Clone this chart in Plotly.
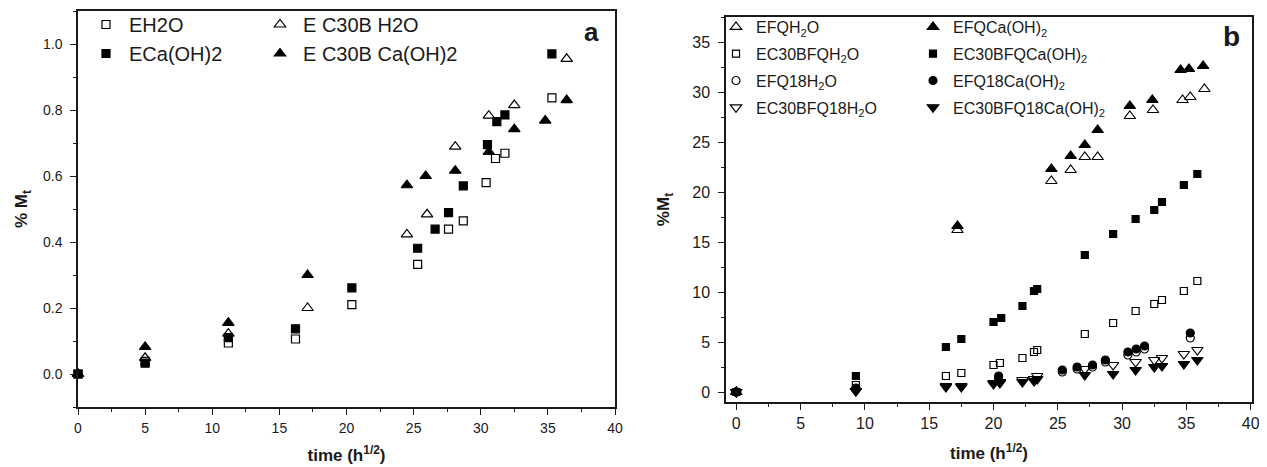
import plotly.graph_objects as go

# ---------------- Panel a data ----------------
a_eh2o_x = [0, 5, 11.2, 16.2, 20.4, 25.3, 27.6, 28.7, 30.4, 31.1, 31.8, 35.3]
a_eh2o_y = [0, 0.038, 0.094, 0.106, 0.21, 0.332, 0.439, 0.464, 0.58, 0.653, 0.669, 0.837]

a_eca_x = [0, 5, 11.2, 16.2, 20.4, 25.3, 26.6, 27.6, 28.7, 30.5, 31.2, 31.8, 35.3]
a_eca_y = [0, 0.033, 0.11, 0.137, 0.261, 0.381, 0.439, 0.489, 0.57, 0.695, 0.765, 0.785, 0.97]

a_c30h2o_x = [0, 5, 11.2, 17.1, 24.5, 26.0, 28.1, 30.6, 32.5, 36.4]
a_c30h2o_y = [0, 0.049, 0.122, 0.20, 0.423, 0.484, 0.689, 0.783, 0.815, 0.955]

a_c30ca_x = [0, 5, 11.2, 17.1, 24.5, 25.9, 28.1, 30.6, 32.5, 34.8, 36.4]
a_c30ca_y = [0, 0.082, 0.155, 0.30, 0.572, 0.60, 0.616, 0.673, 0.742, 0.768, 0.83]

# ---------------- Panel b data ----------------
b_efq_h2o_x = [0, 17.2, 24.5, 26.0, 27.1, 28.1, 30.6, 32.4, 34.7, 35.3, 36.4]
b_efq_h2o_y = [0, 16.2, 21.1, 22.2, 23.5, 23.5, 27.6, 28.2, 29.2, 29.5, 30.3]

b_efq_ca_x = [0, 17.2, 24.5, 26.0, 27.1, 28.1, 30.6, 32.35, 34.55, 35.2, 36.3]
b_efq_ca_y = [0, 16.6, 22.3, 23.6, 24.7, 26.2, 28.6, 29.2, 32.2, 32.3, 32.6]

b_c30fq_h2o_x = [0, 9.3, 16.3, 17.5, 20.0, 20.5, 22.25, 23.15, 23.4, 27.1, 29.3, 31.05, 32.5, 33.1, 34.8, 35.85]
b_c30fq_h2o_y = [0, 0.7, 1.6, 1.9, 2.7, 2.9, 3.4, 4.0, 4.2, 5.8, 6.9, 8.1, 8.8, 9.2, 10.1, 11.1]

b_c30fq_ca_x = [0, 9.3, 16.3, 17.5, 20.0, 20.6, 22.25, 23.15, 23.4, 27.1, 29.3, 31.05, 32.5, 33.1, 34.8, 35.85]
b_c30fq_ca_y = [0, 1.6, 4.5, 5.3, 7.0, 7.4, 8.6, 10.1, 10.3, 13.7, 15.8, 17.3, 18.2, 19.0, 20.7, 21.8]

b_efq18_h2o_x = [0, 9.3, 20.4, 25.35, 26.5, 27.7, 28.7, 30.45, 31.1, 31.75, 35.3]
b_efq18_h2o_y = [0, 0.3, 1.3, 2.0, 2.3, 2.5, 3.0, 3.7, 4.0, 4.3, 5.4]

b_efq18_ca_x = [0, 9.3, 20.4, 25.35, 26.5, 27.7, 28.7, 30.45, 31.1, 31.75, 35.3]
b_efq18_ca_y = [0, 0.4, 1.6, 2.2, 2.5, 2.7, 3.2, 4.0, 4.3, 4.6, 5.9]

b_c30fq18_h2o_x = [0, 9.3, 16.3, 17.5, 20.0, 20.5, 22.25, 23.15, 23.4, 27.1, 29.3, 31.05, 32.5, 33.1, 34.8, 35.85]
b_c30fq18_h2o_y = [0, 0.1, 0.6, 0.6, 0.9, 1.0, 1.2, 1.3, 1.6, 2.3, 2.7, 3.0, 3.2, 3.4, 3.8, 4.2]

b_c30fq18_ca_x = [0, 9.3, 16.3, 17.5, 20.0, 20.5, 22.25, 23.15, 23.4, 27.1, 29.3, 31.05, 32.5, 33.1, 34.8, 35.85]
b_c30fq18_ca_y = [0, 0.1, 0.5, 0.5, 0.8, 0.9, 1.0, 1.1, 1.3, 1.7, 1.8, 2.2, 2.5, 2.6, 2.8, 3.2]

FONT = "Liberation Sans, Arial, sans-serif"
INK = "#1a1a1a"

fig = go.Figure()


def add(x, y, name, symbol, size, xaxis, yaxis, legend, group):
    fig.add_trace(go.Scatter(
        x=x, y=y, mode="markers", name=name,
        xaxis=xaxis, yaxis=yaxis, legend=legend, legendgroup=group,
        marker=dict(symbol=symbol, size=size, color="black",
                    line=dict(color="black", width=1.2)),
        showlegend=True, cliponaxis=False,
    ))


# Panel a
add(a_eh2o_x, a_eh2o_y, "EH2O", "square-open", 8, "x", "y", "legend", "a1")
add(a_eca_x, a_eca_y, "ECa(OH)2", "square", 8, "x", "y", "legend", "a2")
add(a_c30h2o_x, a_c30h2o_y, "E C30B H2O", "triangle-up-open", 10, "x", "y", "legend2", "a3")
add(a_c30ca_x, a_c30ca_y, "E C30B Ca(OH)2", "triangle-up", 10, "x", "y", "legend2", "a4")

# Panel b
add(b_efq_h2o_x, b_efq_h2o_y, "EFQH<sub>2</sub>O", "triangle-up-open", 10, "x2", "y2", "legend3", "b1")
add(b_c30fq_h2o_x, b_c30fq_h2o_y, "EC30BFQH<sub>2</sub>O", "square-open", 7, "x2", "y2", "legend3", "b2")
add(b_efq18_h2o_x, b_efq18_h2o_y, "EFQ18H<sub>2</sub>O", "circle-open", 8, "x2", "y2", "legend3", "b3")
add(b_c30fq18_h2o_x, b_c30fq18_h2o_y, "EC30BFQ18H<sub>2</sub>O", "triangle-down-open", 10, "x2", "y2", "legend3", "b4")
add(b_efq_ca_x, b_efq_ca_y, "EFQCa(OH)<sub>2</sub>", "triangle-up", 10, "x2", "y2", "legend4", "b5")
add(b_c30fq_ca_x, b_c30fq_ca_y, "EC30BFQCa(OH)<sub>2</sub>", "square", 7, "x2", "y2", "legend4", "b6")
add(b_efq18_ca_x, b_efq18_ca_y, "EFQ18Ca(OH)<sub>2</sub>", "circle", 8, "x2", "y2", "legend4", "b7")
add(b_c30fq18_ca_x, b_c30fq18_ca_y, "EC30BFQ18Ca(OH)<sub>2</sub>", "triangle-down", 10, "x2", "y2", "legend4", "b8")

# page body adds an 8px margin; size the figure so it fits the 1267x467 window
OFF = 8
W, H = 1267 - OFF, 467 - OFF


def px(x):
    return (x - OFF) / W


def py(y):
    return 1 - (y - OFF) / H


axis_common = dict(
    showline=True, linewidth=1.5, linecolor=INK, mirror=True,
    ticks="outside", ticklen=6, tickwidth=1.2, tickcolor=INK,
    showgrid=False, zeroline=False, automargin=False,
    ticklabelstandoff=5,
    tickfont=dict(family=FONT, size=14, color=INK),
)
big_ticks = dict(family=FONT, size=16, color=INK)

fig.update_layout(
    width=W, height=H,
    margin=dict(l=0, r=0, t=0, b=0, autoexpand=False),
    paper_bgcolor="white", plot_bgcolor="white",
    font=dict(family=FONT, color=INK),
    xaxis=dict(domain=[px(78), px(615)], range=[0, 40], dtick=5, anchor="y",
               minor=dict(ticks="outside", ticklen=3, dtick=2.5, tickcolor=INK),
               title=dict(text="<b>time (h<sup>1/2</sup>)</b>", font=dict(size=17, family=FONT), standoff=15),
               **{**axis_common, "ticklabelstandoff": 1}),
    yaxis=dict(domain=[py(407), py(11)], range=[-0.1, 1.1], dtick=0.2, tickformat=".1f", anchor="x",
               minor=dict(ticks="outside", ticklen=3, dtick=0.1, tickcolor=INK),
               title=dict(text="<b>% M<sub>t</sub></b>", font=dict(size=17, family=FONT), standoff=11),
               **axis_common),
    xaxis2=dict(domain=[px(726), px(1252)], range=[-0.8, 40.1], dtick=5, tick0=0, anchor="y2",
                minor=dict(ticks="outside", ticklen=3, dtick=2.5, tickcolor=INK),
                title=dict(text="<b>time (h<sup>1/2</sup>)</b>", font=dict(size=17, family=FONT), standoff=16),
                **{**axis_common, "tickfont": big_ticks, "ticklabelstandoff": 0}),
    yaxis2=dict(domain=[py(402), py(17)], range=[-1, 37.5], dtick=5, tick0=0, anchor="x2",
                minor=dict(ticks="outside", ticklen=3, dtick=2.5, tickcolor=INK),
                title=dict(text="<b>%M<sub>t</sub></b>", font=dict(size=17, family=FONT), standoff=18),
                **{**axis_common, "tickfont": big_ticks}),
    legend=dict(x=px(83), y=py(5), xanchor="left", yanchor="top", bgcolor="rgba(0,0,0,0)", itemwidth=36,
                font=dict(size=20, family=FONT, color=INK), tracegroupgap=0, itemclick=False),
    legend2=dict(x=px(257), y=py(5), xanchor="left", yanchor="top", bgcolor="rgba(0,0,0,0)", itemwidth=36,
                 font=dict(size=20, family=FONT, color=INK), tracegroupgap=0, itemclick=False),
    legend3=dict(x=px(716), y=py(10), xanchor="left", yanchor="top", bgcolor="rgba(0,0,0,0)",
                 font=dict(size=16, family=FONT, color=INK), tracegroupgap=3, itemclick=False),
    legend4=dict(x=px(913), y=py(10), xanchor="left", yanchor="top", bgcolor="rgba(0,0,0,0)",
                 font=dict(size=16, family=FONT, color=INK), tracegroupgap=3, itemclick=False),
    annotations=[
        dict(text="<b>a</b>", x=px(591), y=py(32), xref="paper", yref="paper",
             xanchor="center", yanchor="middle",
             showarrow=False, font=dict(size=26, family=FONT, color=INK)),
        dict(text="<b>b</b>", x=px(1231), y=py(37), xref="paper", yref="paper",
             xanchor="center", yanchor="middle",
             showarrow=False, font=dict(size=28, family=FONT, color=INK)),
    ],
)

fig.write_html("out.html")
